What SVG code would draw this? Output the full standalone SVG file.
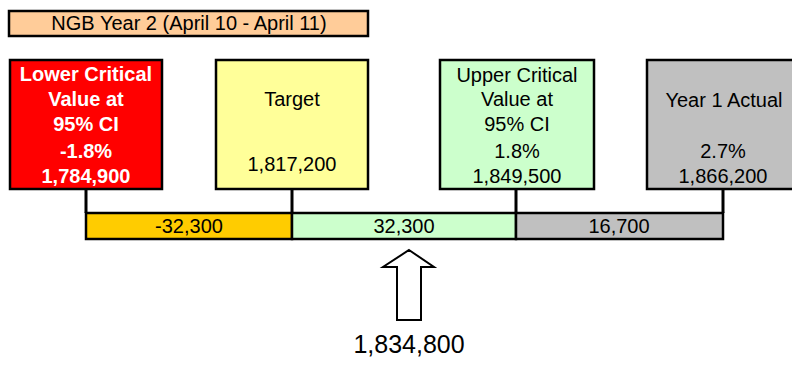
<svg xmlns="http://www.w3.org/2000/svg" width="792" height="365" viewBox="0 0 792 365">
<style>
.box{stroke:#000;stroke-width:2.5}
.t{font-family:"Liberation Sans",Arial,sans-serif;font-size:20px;text-anchor:middle;fill:#000}
.b{font-weight:bold;fill:#fff}
.con{stroke:#000;stroke-width:3;fill:none}
</style>
<rect width="792" height="365" fill="#fff"/>
<g id="title">
<rect class="box" x="9" y="11" width="359" height="25" fill="#FFCC99"/>
<text class="t" x="189" y="29.5">NGB Year 2 (April 10 - April 11)</text>
</g>
<g id="connectors">
<line class="con" x1="86" y1="189" x2="86" y2="213"/>
<line class="con" x1="292" y1="189" x2="292" y2="213"/>
<line class="con" x1="516" y1="189" x2="516" y2="213"/>
<line class="con" x1="723" y1="189" x2="723" y2="213"/>
</g>
<g id="lower">
<rect class="box" x="10" y="60" width="152" height="129" fill="#FF0000"/>
<text class="t b" x="86" y="81">Lower Critical</text>
<text class="t b" x="86" y="106">Value at</text>
<text class="t b" x="86" y="131">95% CI</text>
<text class="t b" x="86" y="158">-1.8%</text>
<text class="t b" x="86" y="183">1,784,900</text>
</g>
<g id="target">
<rect class="box" x="216" y="60" width="152" height="129" fill="#FFFF99"/>
<text class="t" x="292" y="106">Target</text>
<text class="t" x="292" y="171">1,817,200</text>
</g>
<g id="upper">
<rect class="box" x="440" y="60" width="154" height="129" fill="#CCFFCC"/>
<text class="t" x="517" y="82">Upper Critical</text>
<text class="t" x="517" y="106">Value at</text>
<text class="t" x="517" y="131">95% CI</text>
<text class="t" x="517" y="158">1.8%</text>
<text class="t" x="517" y="183">1,849,500</text>
</g>
<g id="year1">
<rect class="box" x="647" y="60" width="160" height="129" fill="#C0C0C0"/>
<text class="t" x="724" y="107">Year 1 Actual</text>
<text class="t" x="723" y="158">2.7%</text>
<text class="t" x="723" y="183">1,866,200</text>
</g>
<g id="seg1">
<rect class="box" x="86" y="213" width="206" height="26" fill="#FFCC00"/>
<text class="t" x="189" y="233">-32,300</text>
</g>
<g id="seg2">
<rect class="box" x="292" y="213" width="224" height="26" fill="#CCFFCC"/>
<text class="t" x="404" y="233">32,300</text>
</g>
<g id="seg3">
<rect class="box" x="516" y="213" width="207" height="26" fill="#C0C0C0"/>
<text class="t" x="619" y="233">16,700</text>
</g>
<g id="pointer">
<polygon points="409,250 434,267 421,267 421,320 397,320 397,267 383,267" fill="#fff" stroke="#000" stroke-width="2"/>
<text class="t" x="409" y="353" style="font-size:25px">1,834,800</text>
</g>
</svg>
